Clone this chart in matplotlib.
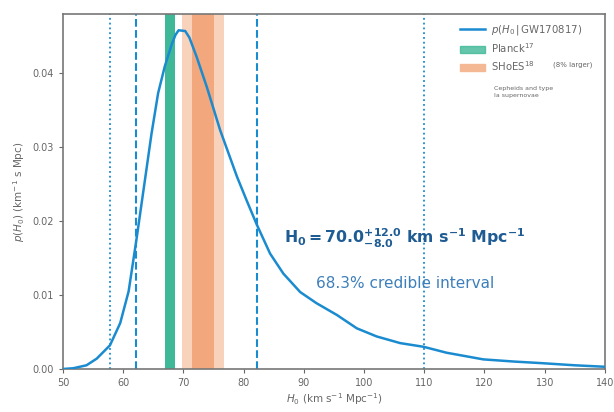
import matplotlib.pyplot as plt
import numpy as np
from matplotlib.patches import Patch
from matplotlib.lines import Line2D

# posterior
h0 = [50, 51.7, 53.9, 55.6, 57.8, 59.5, 60.9, 62.2, 63.6, 64.7, 65.8, 66.9, 68.1,
      68.7, 69.2, 70.3, 71.0, 72.2, 73.9, 76.1, 78.9, 80.5, 82.2, 84.4, 86.6, 89.4,
      92.1, 95.5, 98.8, 102.1, 106.0, 109.9, 113.7, 119.8, 125, 129.3, 135, 140]
p = [0.0, 0.0001, 0.0005, 0.0014, 0.0032, 0.0062, 0.0105, 0.0175, 0.0255, 0.0318,
     0.0373, 0.0409, 0.0440, 0.0452, 0.0458, 0.0457, 0.0448, 0.0422, 0.0381, 0.0323,
     0.0260, 0.0228, 0.0195, 0.0156, 0.0129, 0.0104, 0.0089, 0.0073, 0.0055, 0.0044,
     0.0035, 0.0030, 0.0022, 0.0013, 0.0010, 0.0008, 0.0005, 0.0003]

ci68 = [62.2, 82.2]
ci95 = [57.8, 110.0]
planck = [67.0, 68.6]
shoes_in = [71.5, 75.0]
shoes_out = [69.8, 76.8]

blue = '#1b8bd0'
grey = '#666666'

fig = plt.figure(figsize=(6.14, 4.12), dpi=100)
ax = fig.add_axes([0.1026, 0.1044, 0.8825, 0.8616])

ax.axvspan(shoes_out[0], shoes_out[1], color='#f9d2bc', lw=0, zorder=1)
ax.axvspan(shoes_in[0], shoes_in[1], color='#f2a77c', lw=0, zorder=1)
ax.axvspan(planck[0], planck[1], color='#3fb897', lw=0, zorder=1)

for v in ci68:
    ax.axvline(v, color=blue, ls='--', lw=1.5, zorder=2)
for v in ci95:
    ax.axvline(v, color=blue, ls=':', lw=1.3, zorder=2)

ax.plot(h0, p, color=blue, lw=1.8, zorder=3, solid_joinstyle='round')

ax.set_xlim(50, 140)
ax.set_ylim(0, 0.048)
ax.set_xticks(np.arange(50, 141, 10))
ax.set_yticks([0, 0.01, 0.02, 0.03, 0.04])
ax.set_yticklabels(['0.00', '0.01', '0.02', '0.03', '0.04'])
ax.tick_params(labelsize=7, colors=grey, length=3)
for s in ax.spines.values():
    s.set_color('#777777')
    s.set_linewidth(1.2)

ax.set_xlabel(r'$H_0$ (km s$^{-1}$ Mpc$^{-1}$)', fontsize=7.5, color=grey, labelpad=2)
ax.set_ylabel(r'$p(H_0)$ (km$^{-1}$ s Mpc)', fontsize=7.5, color=grey, labelpad=4)

handles = [Line2D([], [], color=blue, lw=1.8),
           Patch(color='#3fb897', alpha=0.8),
           Patch(color='#f5b895')]
labels = [r'$p(H_0\,|\,$GW170817)', r'Planck$^{17}$', r'SHoES$^{18}$']
leg = ax.legend(handles, labels, loc='upper left', bbox_to_anchor=(0.715, 1.0),
                frameon=False, fontsize=7.3, handlelength=2.5, handletextpad=0.6,
                labelspacing=0.4)
for t in leg.get_texts():
    t.set_color(grey)
ax.text(0.905, 0.856, '(8% larger)', transform=ax.transAxes, fontsize=5,
        color=grey, va='center')
ax.text(0.795, 0.78, 'Cepheids and type\nIa supernovae', transform=ax.transAxes,
        fontsize=4.5, color=grey, va='center', linespacing=1.6)

ax.text(86.7, 0.0176, r'$\mathbf{H_0 = 70.0^{+12.0}_{-8.0}}$ km s$^{\mathbf{-1}}$ Mpc$^{\mathbf{-1}}$',
        fontsize=11.3, fontweight='bold', color='#1f5c94', va='center')
ax.text(92.0, 0.0116, '68.3% credible interval', fontsize=11, color='#3d7fba',
        va='center')

fig.savefig('out.png', dpi=100)
